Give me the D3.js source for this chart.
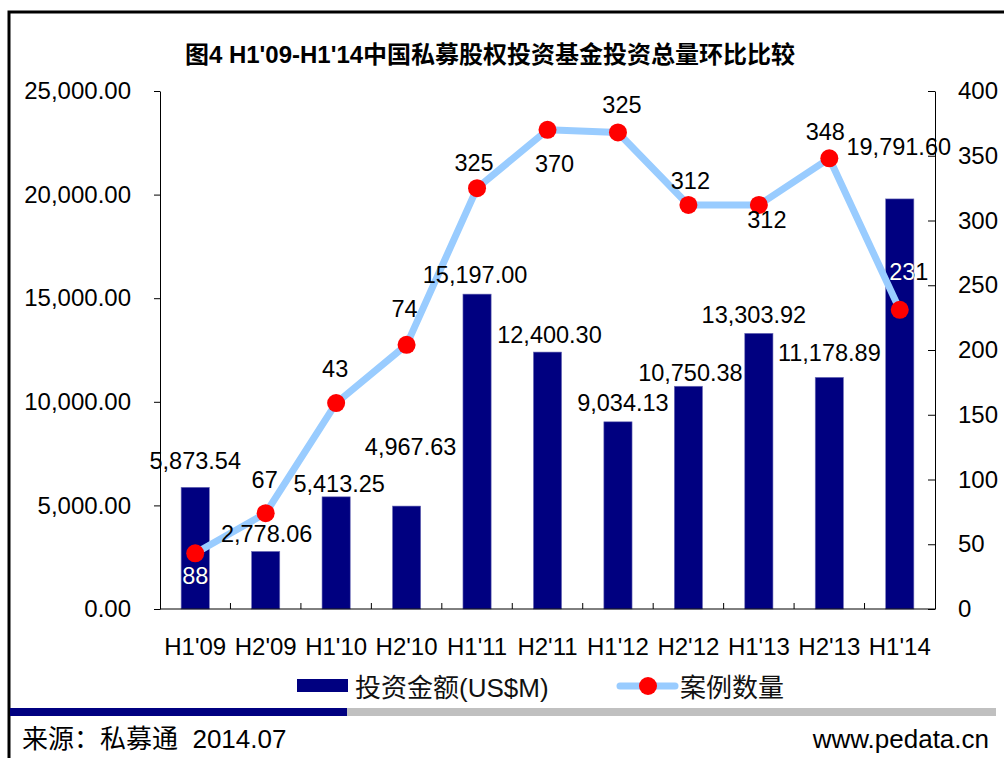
<!DOCTYPE html>
<html>
<head>
<meta charset="utf-8">
<script src="https://cdn.jsdelivr.net/npm/d3@7"></script>
<style>
  html, body { margin: 0; padding: 0; background: #fff; }
  svg { display: block; font-family: "Liberation Sans", Arial, "Noto Sans CJK SC", sans-serif; }
</style>
</head>
<body>
<div id="chart"></div>
<script>
// categories and series
const periods = ["H1'09", "H2'09", "H1'10", "H2'10", "H1'11", "H2'11", "H1'12", "H2'12", "H1'13", "H2'13", "H1'14"];
const amounts = [5873.54, 2778.06, 5413.25, 4967.63, 15197.00, 12400.30, 9034.13, 10750.38, 13303.92, 11178.89, 19791.60];
const dealCounts = [43, 74, 159, 204, 325, 370, 368, 312, 312, 348, 231];
// the labels in the source do not follow the plotted points for the first periods
const dealLabels = ["88", "67", "43", "74", "325", "370", "325", "312", "312", "348", "231"];
const amountTicks = [0, 5000, 10000, 15000, 20000, 25000];
const countTicks = [0, 50, 100, 150, 200, 250, 300, 350, 400];

// hand placed label nudges [dx, dy] like the original Excel chart
const amountNudge = [[0, -18], [1, -9], [3, -5], [4, -51], [-2, -11], [2, -9], [5, -11], [2, -5], [-5, -10], [0, -16], [-1, -44]];
const countNudge = [[0, 31], [-1, -25], [-1, -26], [-2, -28], [-3, -17], [7, 42], [4, -19], [2, -16], [8, 23], [-4, -18], [9, -30]];

const W = 1004, H = 758;
const plot = { left: 160, right: 935, top: 91, bottom: 609 };
const NAVY = "#000080";
const LINE_BLUE = "#99ccff";
const DOT_RED = "#ff0000";

const svg = d3.select("#chart").append("svg")
    .attr("width", W)
    .attr("height", H);

// outer frame
svg.append("rect")
    .attr("x", 9).attr("y", 12)
    .attr("width", 1010).attr("height", 770)
    .attr("fill", "none")
    .attr("stroke", "#000")
    .attr("stroke-width", 3);

// title
svg.append("text")
    .attr("x", 490).attr("y", 63)
    .attr("text-anchor", "middle")
    .style("font-size", "24px")
    .style("font-weight", "bold")
    .text("图4 H1'09-H1'14中国私募股权投资基金投资总量环比比较");

const x = d3.scaleBand()
    .domain(periods)
    .range([plot.left, plot.right]);

const yL = d3.scaleLinear()
    .domain([0, 25000])
    .range([plot.bottom, plot.top]);

const yR = d3.scaleLinear()
    .domain([0, 400])
    .range([plot.bottom, plot.top]);

const barW = x.bandwidth() * 0.4;
const cx = d => x(d) + x.bandwidth() / 2;

// bars
svg.append("g")
    .selectAll("rect")
    .data(periods)
    .join("rect")
    .attr("x", d => cx(d) - barW / 2)
    .attr("y", (d, i) => yL(amounts[i]))
    .attr("width", barW)
    .attr("height", (d, i) => plot.bottom - yL(amounts[i]))
    .attr("fill", NAVY)
    .attr("stroke", "#7070b8")
    .attr("stroke-width", 0.6);

// clip made of the bars, so labels sitting on a bar turn white
const clip = svg.append("defs").append("clipPath").attr("id", "bar-clip");
clip.selectAll("rect")
    .data(periods)
    .join("rect")
    .attr("x", d => cx(d) - barW / 2)
    .attr("y", (d, i) => yL(amounts[i]))
    .attr("width", barW)
    .attr("height", (d, i) => plot.bottom - yL(amounts[i]));

// axes
const styleAxis = g => {
    g.selectAll("path, line").attr("stroke", "#000").attr("stroke-width", 1);
    g.selectAll("text")
        .style("font-family", "\"Liberation Sans\", Arial, sans-serif")
        .style("font-size", "24px")
        .attr("fill", "#000");
};

svg.append("g")
    .attr("transform", `translate(${plot.left},0)`)
    .call(d3.axisLeft(yL).tickValues(amountTicks).tickFormat(d3.format(",.2f"))
        .tickSizeInner(6).tickSizeOuter(0).tickPadding(23))
    .call(styleAxis);

svg.append("g")
    .attr("transform", `translate(${plot.right},0)`)
    .call(d3.axisRight(yR).tickValues(countTicks)
        .tickSizeInner(-7).tickSizeOuter(0).tickPadding(23))
    .call(styleAxis);

svg.append("g")
    .attr("transform", `translate(0,${plot.bottom})`)
    .call(d3.axisBottom(x).tickSize(0).tickPadding(29))
    .call(styleAxis)
    .call(g => g.select(".domain").attr("d", `M${plot.left},0H${plot.right}`));

// category boundary ticks, pointing up into the plot
svg.append("g")
    .selectAll("line")
    .data(periods.slice(1))
    .join("line")
    .attr("x1", d => x(d)).attr("x2", d => x(d))
    .attr("y1", plot.bottom).attr("y2", plot.bottom - 6)
    .attr("stroke", "#000");

// deal count line
const line = d3.line()
    .x((d, i) => cx(periods[i]))
    .y(d => yR(d));

svg.append("path")
    .datum(dealCounts)
    .attr("d", line)
    .attr("fill", "none")
    .attr("stroke", LINE_BLUE)
    .attr("stroke-width", 7)
    .attr("stroke-linejoin", "round");

svg.append("g")
    .selectAll("circle")
    .data(dealCounts)
    .join("circle")
    .attr("cx", (d, i) => cx(periods[i]))
    .attr("cy", d => yR(d))
    .attr("r", 9)
    .attr("fill", DOT_RED);

// data labels: black copy, then a white copy clipped to the bars
const labelData = [
    ...amounts.map((v, i) => ({
        text: d3.format(",.2f")(v),
        x: cx(periods[i]) + amountNudge[i][0],
        y: yL(v) + amountNudge[i][1]
    })),
    ...dealCounts.map((v, i) => ({
        text: dealLabels[i],
        x: cx(periods[i]) + countNudge[i][0],
        y: yR(v) + countNudge[i][1]
    }))
];

[["#000", null], ["#fff", "url(#bar-clip)"]].forEach(([fill, cp]) => {
    svg.append("g")
        .attr("clip-path", cp)
        .selectAll("text")
        .data(labelData)
        .join("text")
        .attr("x", d => d.x)
        .attr("y", d => d.y)
        .attr("text-anchor", "middle")
        .attr("fill", fill)
        .style("font-size", "23.5px")
        .text(d => d.text);
});

// legend
const legend = svg.append("g");
legend.append("rect")
    .attr("x", 297).attr("y", 679)
    .attr("width", 51).attr("height", 13)
    .attr("fill", NAVY);
legend.append("text")
    .attr("x", 355).attr("y", 697)
    .style("font-size", "26px")
    .attr("fill", "#111")
    .text("投资金额(US$M)");
legend.append("line")
    .attr("x1", 620).attr("x2", 675)
    .attr("y1", 686).attr("y2", 686)
    .attr("stroke", LINE_BLUE)
    .attr("stroke-width", 7)
    .attr("stroke-linecap", "round");
legend.append("circle")
    .attr("cx", 648).attr("cy", 686)
    .attr("r", 9)
    .attr("fill", DOT_RED);
legend.append("text")
    .attr("x", 680).attr("y", 697)
    .style("font-size", "26px")
    .attr("fill", "#111")
    .text("案例数量");

// footer band
svg.append("rect")
    .attr("x", 10).attr("y", 708)
    .attr("width", 337).attr("height", 8)
    .attr("fill", NAVY);
svg.append("rect")
    .attr("x", 347).attr("y", 708)
    .attr("width", 649).attr("height", 8)
    .attr("fill", "#c0c0c0");

svg.append("text")
    .attr("x", 22).attr("y", 748)
    .style("font-size", "26px")
    .attr("xml:space", "preserve")
    .style("white-space", "pre")
    .text("来源：私募通  2014.07");

svg.append("text")
    .attr("x", 989).attr("y", 748)
    .attr("text-anchor", "end")
    .style("font-size", "26px")
    .text("www.pedata.cn");
</script>
</body>
</html>
